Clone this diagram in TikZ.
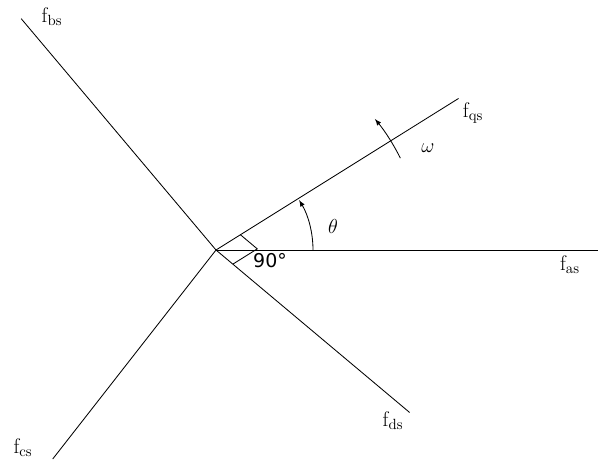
\documentclass[tikz,border=0pt]{standalone}
\usepackage{amsmath, amssymb}
\usepackage{fontspec}
\usepackage{tikz}
\usetikzlibrary{calc, positioning}
\newfontfamily\degfont{DejaVu Sans}

\begin{document}
\begin{tikzpicture}[>=latex, line width=0.6pt,
    lbl/.style={font=\fontsize{15}{17}\selectfont, inner sep=0pt}]
    \useasboundingbox (-5.4,-5.225) rectangle (9.55,6.25);
    % 1. Các trục
    \coordinate (O) at (0,0);
    \coordinate (as) at (9.55,0);
    \coordinate (bs) at (130.1:7.56);
    \coordinate (cs) at (232:6.63);
    \coordinate (qs) at (32:7.15);
    \coordinate (ds) at (-40:6.32);
    \draw (O) -- (as);
    \draw (O) -- (bs);
    \draw (O) -- (cs);
    \draw (O) -- (qs);
    \draw (O) -- (ds);

    % 2. Nhãn
    \node[lbl] (fas) at (8.85,-0.375) {$\mathrm{f}_{\mathrm{as}}$};
    \node[lbl] (fbs) at (-4.1,5.825) {$\mathrm{f}_{\mathrm{bs}}$};
    \node[lbl] (fcs) at (-4.825,-4.95) {$\mathrm{f}_{\mathrm{cs}}$};
    \node[lbl] (fqs) at (6.425,3.425) {$\mathrm{f}_{\mathrm{qs}}$};
    \node[lbl] (fds) at (4.425,-4.275) {$\mathrm{f}_{\mathrm{ds}}$};

    % 3. Góc vuông
    \coordinate (A) at (32:0.72);
    \coordinate (B) at (-40:0.55);
    \draw (A) -- ($(A)+(B)$) -- (B);
    \node[lbl, font=\degfont\fontsize{13.5}{15}\selectfont] (vuong) at (1.35,-0.275) {90°};

    % 4. Góc theta và omega
    \draw[->] (2.425,0) arc[start angle=0, end angle=31, radius=2.425];
    \node[lbl] (theta) at (2.925,0.6) {$\theta$};
    \draw[->] (26.5:5.15) arc[start angle=26.5, end angle=39.5, radius=5.15];
    \node[lbl] (omega) at (5.3,2.55) {$\omega$};
\end{tikzpicture}
\end{document}
